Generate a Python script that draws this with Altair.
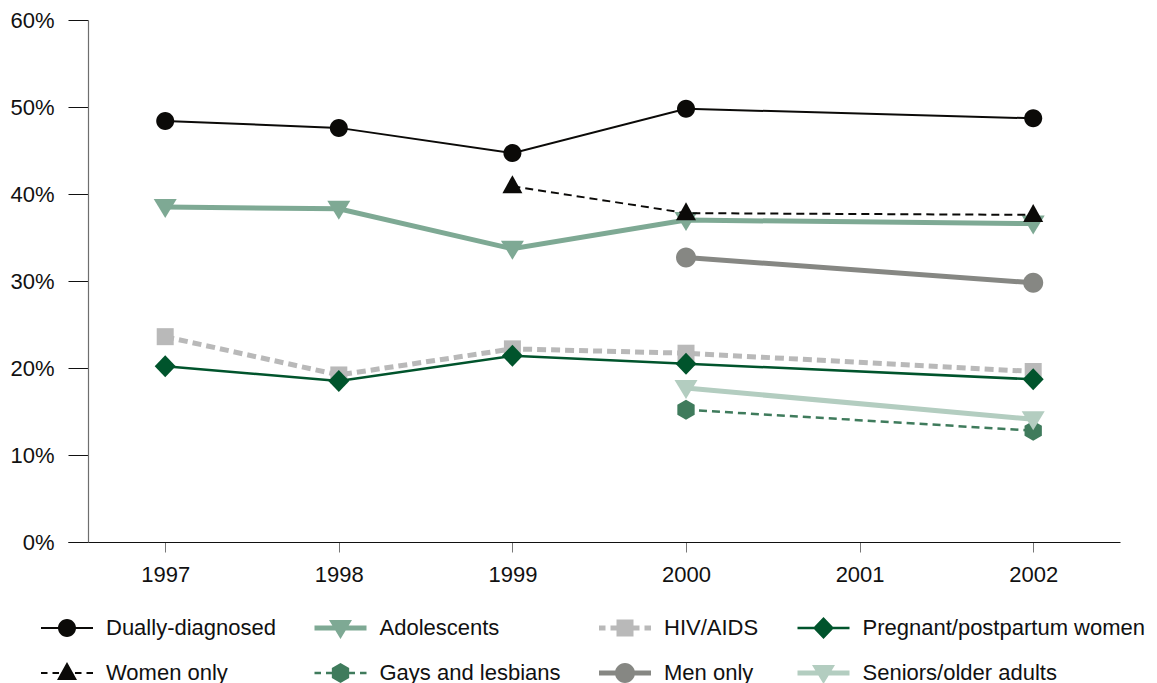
import altair as alt
import pandas as pd

years = [1997, 1998, 1999, 2000, 2001, 2002]
series = ["Dually-diagnosed", "Adolescents", "HIV/AIDS", "Pregnant/postpartum women",
          "Women only", "Gays and lesbians", "Men only", "Seniors/older adults"]
dually_diagnosed = [48.4, 47.6, 44.7, 49.8, None, 48.7]
adolescents = [38.5, 38.3, 33.7, 37.0, None, 36.6]
hiv_aids = [23.6, 19.2, 22.2, 21.7, None, 19.6]
pregnant_postpartum = [20.2, 18.5, 21.4, 20.5, None, 18.7]
women_only = [None, None, 40.9, 37.8, None, 37.6]
gays_lesbians = [None, None, None, 15.2, None, 12.8]
men_only = [None, None, None, 32.7, None, 29.8]
seniors_older = [None, None, None, 17.7, None, 14.1]
y_ticks = [0, 10, 20, 30, 40, 50, 60]
x_ticks = [1997, 1998, 1999, 2000, 2001, 2002]

all_values = [dually_diagnosed, adolescents, hiv_aids, pregnant_postpartum,
              women_only, gays_lesbians, men_only, seniors_older]
rows = []
for name, vals in zip(series, all_values):
    for yr, v in zip(years, vals):
        if v is not None:
            rows.append({"series": name, "year": yr, "pct": v})
df = pd.DataFrame(rows)

FONT = "Liberation Sans"
colors = ["#0b0a08", "#7ea994", "#b9b9b9", "#00542c", "#0b0a08", "#3f7b5c", "#868783", "#b3cdc0"]
widths = [2, 5, 5, 2.5, 2, 2.5, 5, 5]
dashes = [None, None, [9, 5], None, [8, 5], [8, 5], None, None]


def circle(r):
    return f"M{r},0A{r},{r} 0 1,1 {-r},0A{r},{r} 0 1,1 {r},0Z"


tri_down = "M-1.15,-0.8L1.15,-0.8L0,1.1Z"
tri_up = "M0,-1.1L1.0,0.7L-1.0,0.7Z"
square = "M-0.85,-0.85H0.85V0.85H-0.85Z"
diamond = "M0,-1.1L1.05,0L0,1.1L-1.05,0Z"
hexagon = "M0,-1L0.866,-0.5L0.866,0.5L0,1L-0.866,0.5L-0.866,-0.5Z"
markers = [circle(0.9), tri_down, square, diamond, tri_up, hexagon, circle(1.0), tri_down]


def rect(x1, x2, h):
    return f"M{x1},{-h}H{x2}V{h}H{x1}Z"


def legend_path(i):
    h = widths[i] / 20.0
    if dashes[i] is None:
        line = rect(-2.6, 2.6, h)
    else:
        segs = [(-2.6, -1.95), (-1.45, -0.8)]
        line = "".join(rect(a, b, h) + rect(-b, -a, h) for a, b in segs)
    return line + markers[i]


legend_paths = [legend_path(i) for i in range(len(series))]

X = alt.X("year:Q",
          scale=alt.Scale(domain=[1996.44, 2002.5], nice=False, zero=False),
          axis=alt.Axis(values=x_ticks, format="d", title=None, grid=False,
                        tickSize=10, tickColor="#777777", domainColor="#111111",
                        labelPadding=12, labelFont=FONT, labelFontSize=22,
                        labelColor="#111111", domainWidth=1.2))
Y = alt.Y("pct:Q",
          scale=alt.Scale(domain=[0, 60], nice=False, zero=True),
          axis=alt.Axis(values=y_ticks, labelExpr="datum.value + '%'", title=None,
                        grid=False, tickSize=20, offset=-20, tickColor="#111111",
                        domainColor="#6e6e6e", domainWidth=1.2, labelPadding=14,
                        labelFont=FONT, labelFontSize=22, labelColor="#111111"))

layers = []
for i, name in enumerate(series):
    base = alt.Chart(df).transform_filter(alt.datum.series == name)
    kw = dict(color=colors[i], strokeWidth=widths[i])
    if dashes[i] is not None:
        kw["strokeDash"] = dashes[i]
    layers.append(base.mark_line(**kw).encode(x=X, y=Y))
    layers.append(base.mark_point(filled=True, opacity=1, size=400, shape=markers[i],
                                  color=colors[i], strokeWidth=0).encode(x=X, y=Y))

legend_layer = alt.Chart(df).transform_filter("false").mark_point(
    filled=True, opacity=1, size=400, strokeWidth=0).encode(
    color=alt.Color("series:N", scale=alt.Scale(domain=series, range=colors), title=None),
    shape=alt.Shape("series:N", scale=alt.Scale(domain=series, range=legend_paths), title=None),
)
layers.append(legend_layer)

chart = alt.layer(*layers).properties(
    width=1052, height=522,
    autosize=alt.AutoSizeParams(type="none"),
    padding={"left": 60, "top": 12, "right": 28, "bottom": 145},
).configure_view(stroke=None).configure_legend(
    orient="none", legendX=-28, legendY=597, direction="horizontal", columns=4,
    gridAlign="each", symbolSize=400, symbolStrokeWidth=0, symbolOffset=16,
    labelOffset=28, labelFont=FONT, labelFontSize=22, labelColor="#111111",
    columnPadding=37.5, rowPadding=23, padding=0, labelLimit=400,
)

chart.save("out.html", embed_options={"renderer": "svg", "actions": False})
